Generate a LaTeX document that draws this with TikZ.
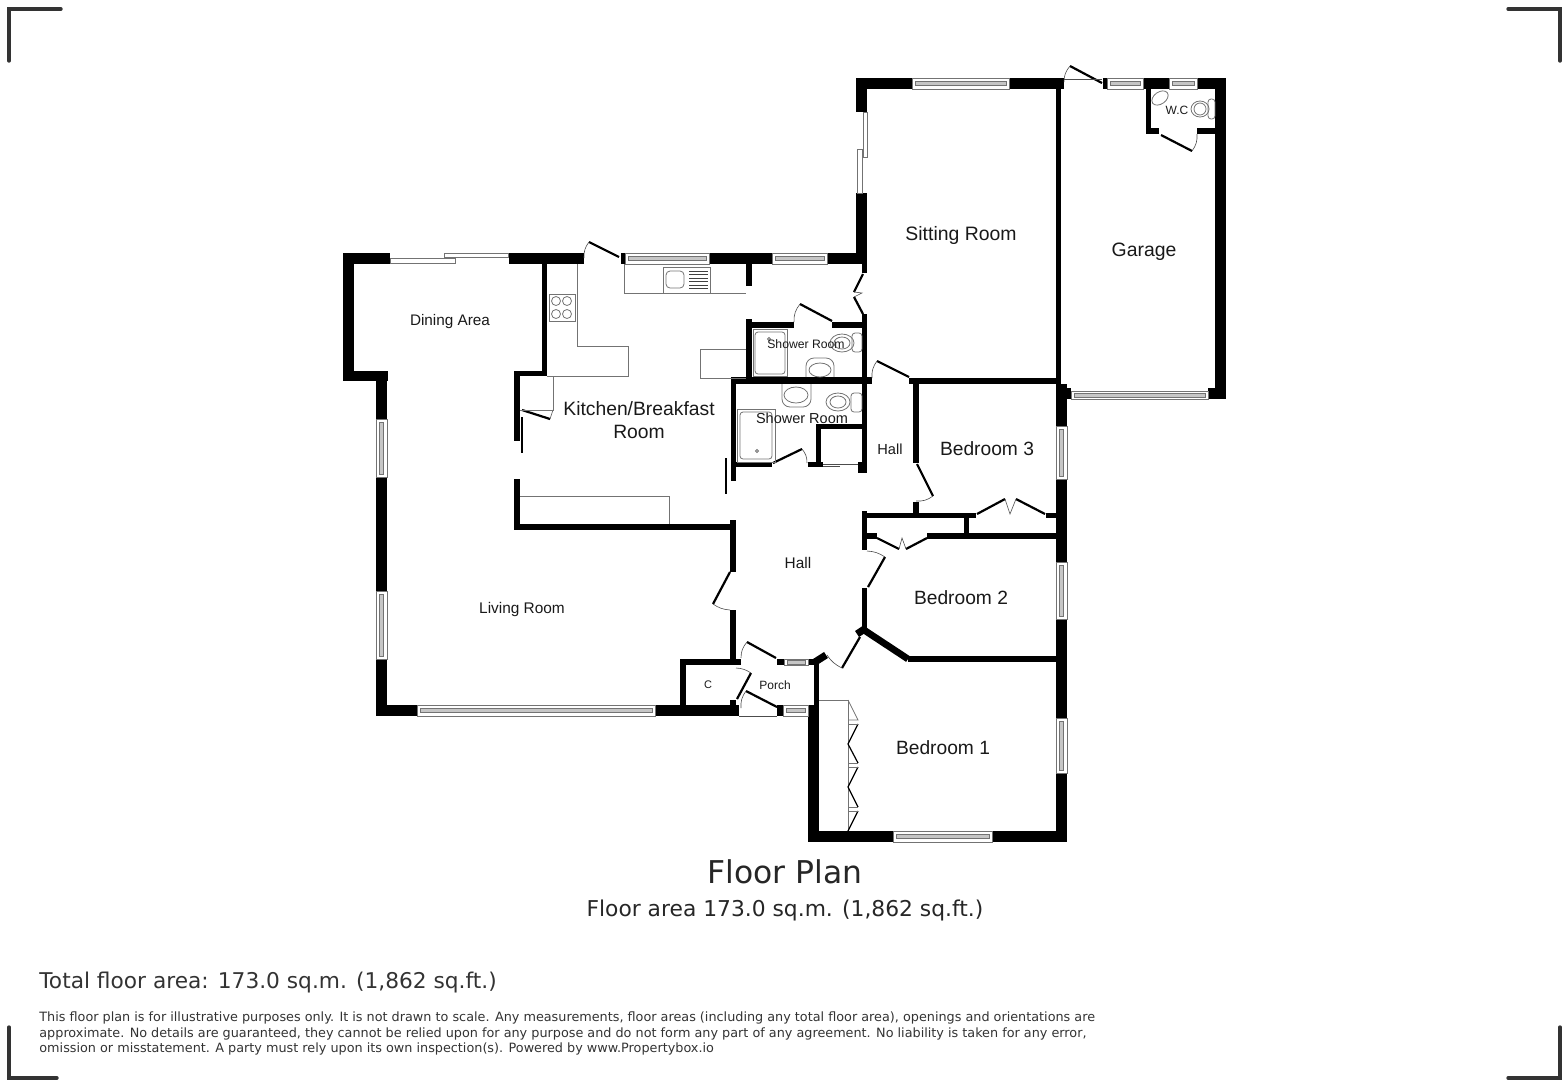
\documentclass[tikz,border=0pt]{standalone}
\usepackage{fontspec}
\setmainfont{DejaVu Sans}
\newfontfamily\roomfont{Liberation Sans}
\newcommand{\wall}[4]{\fill[black] (#1,#2) rectangle (#3,#4);}
\newcommand{\winh}[4]{
	\draw[glass,fill=white] (#1,#2) rectangle (#3,#4);
	\draw[glass,fill=gray!45] (#1+3,{(#2+#4)/2-2}) rectangle (#3-3,{(#2+#4)/2+2});
}
\newcommand{\winv}[4]{
	\draw[glass,fill=white] (#1,#2) rectangle (#3,#4);
	\draw[glass,fill=gray!45] ({(#1+#3)/2-2},#2+3) rectangle ({(#1+#3)/2+2},#4-3);
}
\tikzset{
	leaf/.style={line width=1.1pt},
	fold/.style={line width=0.6pt},
	fine/.style={line width=0.3pt,draw=black!70},
	glass/.style={line width=0.35pt,draw=black!55},
	unit/.style={line width=0.4pt,draw=black!55},
	room/.style={font=\roomfont\fontsize{#1}{#1}\selectfont,text=black!90,inner sep=0pt,align=center},
	crop/.style={line width=1.7pt,draw=black!80,line cap=round},
	foot/.style={inner sep=0pt,anchor=west,text=black!80},
}
\begin{document}
\begin{tikzpicture}[x=0.5pt,y=-0.5pt]
	\useasboundingbox (0,0) rectangle (1568,1088);
	\draw[crop] (9,61) -- (9,9) -- (61,9);
	\draw[crop] (1508,9) -- (1560,9) -- (1560,61);
	\draw[crop] (9,1027) -- (9,1078) -- (57,1078);
	\draw[crop] (1508,1078) -- (1560,1078) -- (1560,1027);

	\wall{343}{253}{390}{264}
	\wall{343}{253}{354}{381}
	\wall{343}{371}{388}{381}
	\wall{376}{371}{387}{419}
	\wall{376}{477}{387}{591}
	\wall{376}{659}{387}{716}
	\wall{376}{705}{417}{716}
	\wall{655}{705}{739}{716}
	\wall{680}{659}{686}{705}
	\wall{680}{659}{741}{665}
	\wall{730}{520}{736}{572}
	\wall{730}{610}{736}{665}
	\wall{730}{700}{736}{705}
	\wall{514}{524}{736}{530}
	\wall{514}{479}{520}{530}
	\wall{514}{371}{520}{441}
	\wall{514}{371}{547}{376}
	\wall{542}{253}{547}{376}
	\wall{509}{253}{584}{264}
	\wall{621}{253}{625}{264}
	\wall{709}{253}{772}{264}
	\wall{827}{253}{867}{264}
	\wall{746}{264}{752}{286}
	\wall{856}{78}{912}{89}
	\wall{856}{78}{867}{112}
	\wall{856}{193}{867}{263}
	\wall{862}{263}{867}{273}
	\wall{746}{319}{752}{383}
	\wall{746}{322}{794}{328}
	\wall{832}{322}{867}{328}
	\wall{862}{314}{867}{473}
	\wall{731}{377}{872}{384}
	\wall{731}{377}{736}{481}
	\wall{731}{462}{772}{467}
	\wall{808}{462}{823}{467}
	\wall{816}{424}{821}{467}
	\wall{816}{424}{862}{429}
	\wall{858}{462}{867}{473}
	\wall{913}{378}{919}{463}
	\wall{909}{378}{1057}{384}
	\wall{913}{502}{919}{515}
	\wall{862}{513}{976}{518}
	\wall{1046}{513}{1057}{518}
	\wall{964}{513}{969}{538}
	\wall{927}{533}{1057}{539}
	\wall{862}{533}{877}{539}
	\wall{862}{511}{867}{550}
	\wall{862}{588}{867}{628}
	\wall{908}{656}{1057}{662}
	\wall{777}{659}{784}{665}
	\wall{808}{659}{819}{665}
	\wall{814}{660}{819}{705}
	\wall{777}{705}{783}{716}
	\wall{808}{705}{819}{842}
	\wall{808}{831}{893}{842}
	\wall{992}{831}{1067}{842}
	\wall{1056}{384}{1067}{426}
	\wall{1056}{479}{1067}{562}
	\wall{1056}{619}{1067}{718}
	\wall{1056}{773}{1067}{842}
	\wall{1060}{388}{1071}{399}
	\wall{1056}{89}{1061}{388}
	\wall{1009}{78}{1064}{89}
	\wall{1103}{78}{1107}{89}
	\wall{1143}{78}{1169}{89}
	\wall{1197}{78}{1226}{89}
	\wall{1215}{78}{1226}{399}
	\wall{1208}{388}{1226}{399}
	\wall{1146}{89}{1151}{134}
	\wall{1146}{128}{1159}{134}
	\wall{1197}{128}{1215}{134}
	\draw[line width=3.4pt] (864,630) -- (908,659);
	\draw[line width=3.6pt] (857,634) -- (866,628);
	\draw[line width=3.6pt] (815,662) -- (826,655);

	\winh{417}{705}{655}{716}
	\winh{625}{253}{709}{264}
	\winh{772}{253}{827}{264}
	\winh{912}{78}{1009}{89}
	\winh{1107}{78}{1143}{89}
	\winh{1169}{78}{1197}{89}
	\winh{1071}{391}{1208}{399}
	\winh{893}{831}{992}{842}
	\winh{784}{659}{808}{665}
	\winh{783}{705}{808}{716}
	\winv{376}{419}{387}{477}
	\winv{376}{591}{387}{659}
	\winv{1056}{426}{1067}{479}
	\winv{1056}{562}{1067}{619}
	\winv{1056}{718}{1067}{773}
	\draw[glass,fill=white] (444,253) rectangle (508,257);
	\draw[glass,fill=white] (390,258) rectangle (455,263);
	\draw[glass,fill=white] (863,112) rectangle (867,157);
	\draw[glass,fill=white] (857,149) rectangle (862,193);
	\draw[fine] (823,464) -- (858,464);
	\draw[fine] (823,466) -- (840,466);

	\draw[leaf] (589,242) -- (619,257);
	\draw[fine] (584,258) to[bend left=20] (589,242);
	\draw[leaf] (800,304) -- (832,321);
	\draw[fine] (794,322) to[bend left=20] (800,304);
	\draw[leaf] (877,361) -- (909,377);
	\draw[fine] (872,378) to[bend left=20] (877,361);
	\draw[leaf] (773,463) -- (802,449);
	\draw[fine] (802,449) to[bend left=20] (807,463);
	\draw[leaf] (917,464) -- (933,496);
	\draw[fine] (933,496) to[bend left=20] (916,501);
	\draw[leaf] (1070,66) -- (1102,83);
	\draw[fine] (1064,82) to[bend left=20] (1070,66);
	\draw[fine] (1064,79) -- (1102,79);
	\draw[leaf] (1161,135) -- (1192,151);
	\draw[fine] (1192,151) to[bend right=20] (1197,134);
	\draw[leaf] (863,274) -- (854,292);
	\draw[leaf] (854,297) -- (863,314);
	\draw[fine] (854,292) -- (862,293) -- (854,297);
	\draw[leaf] (977,514) -- (1005,499);
	\draw[leaf] (1016,499) -- (1045,514);
	\draw[fine] (1005,499) -- (1010,514) -- (1016,499);
	\draw[leaf] (877,538) -- (899,549);
	\draw[leaf] (906,549) -- (927,538);
	\draw[fine] (899,549) -- (902,538) -- (906,549);
	\draw[leaf] (885,557) -- (868,587);
	\draw[fine] (867,551) to[bend left=15] (885,557);
	\draw[leaf] (730,572) -- (713,604);
	\draw[fine] (713,604) to[bend right=15] (730,610);
	\draw[leaf] (860,637) -- (842,668);
	\draw[fine] (842,668) to[bend left=15] (827,655);
	\draw[leaf] (747,642) -- (776,658);
	\draw[fine] (741,658) to[bend left=20] (747,642);
	\draw[leaf] (751,673) -- (737,699);
	\draw[fine] (736,668) to[bend left=15] (751,673);
	\draw[leaf] (746,691) -- (777,707);
	\draw[fine] (741,708) to[bend left=20] (746,691);
	\draw[fine] (739,716) -- (777,716);
	\draw[leaf] (522,410) -- (550,419);
	\draw[fine] (550,419) -- (553,410);
	\draw[leaf] (522,417) -- (522,453);
	\draw[leaf] (726,458) -- (726,494);

	\draw[unit] (577,264) -- (577,346) -- (628,346) -- (628,376) -- (547,376);
	\draw[unit] (553,376) -- (553,410) -- (520,410);
	\draw[unit] (624,264) -- (624,293) -- (746,293);
	\draw[unit] (746,349) -- (700,349) -- (700,378) -- (746,378);
	\draw[unit] (520,496) -- (669,496) -- (669,524);
	\draw[unit] (549,294) rectangle (575,321);
	\draw[unit] (556,301) circle[radius=4.5];
	\draw[unit] (567,301) circle[radius=4.5];
	\draw[unit] (556,314) circle[radius=4.5];
	\draw[unit] (567,314) circle[radius=4.5];
	\draw[unit] (663,267) rectangle (710,293);
	\draw[unit,rounded corners=2pt] (666,271) rectangle (684,288);
	\foreach \y in {271,274.5,278,281.5,285,288}
		\draw[unit,draw=black!75] (689,\y) -- (708,\y);

	\draw[unit] (753,329) rectangle (787,376);
	\draw[unit,rounded corners=1.5pt] (755,332) rectangle (785,374);
	\draw[unit] (769,339) circle[radius=1.5];
	\draw[unit,rounded corners=1.5pt] (852,333) rectangle (862,352);
	\draw[unit] (842,343) ellipse (12 and 9);
	\draw[unit] (842,343) ellipse (8 and 6);
	\draw[unit,rounded corners=4pt] (806,377) -- (806,358) -- (834,358) -- (834,377);
	\draw[unit] (820,370) ellipse (11 and 7);

	\draw[unit,rounded corners=4pt] (782,384) -- (782,407) -- (811,407) -- (811,384);
	\draw[unit] (796,395) ellipse (12 and 8);
	\draw[unit] (838,402) ellipse (12 and 9);
	\draw[unit] (838,402) ellipse (8 and 6);
	\draw[unit,rounded corners=1.5pt] (851,393) rectangle (862,412);
	\draw[unit] (737,409) rectangle (775,462);
	\draw[unit,rounded corners=1.5pt] (740,412) rectangle (772,459);
	\draw[unit] (757,451) circle[radius=1.5];

	\draw[unit,rotate around={35:(1160,98)}] (1160,98) ellipse (9 and 6);
	\draw[unit] (1200,109) ellipse (9 and 8);
	\draw[unit] (1200,109) ellipse (6 and 6);
	\draw[unit,rounded corners=1.5pt] (1208,99) rectangle (1215,119);

	\draw[unit] (819,700) -- (848,700) -- (848,831);
	\draw[unit] (848,700) -- (858,720) -- (848,720);
	\draw[fold] (858,724) -- (848,744);
	\draw[unit] (848,724) -- (858,724);
	\draw[fold] (848,744) -- (858,763);
	\draw[unit] (858,763) -- (848,763);
	\draw[fold] (858,767) -- (848,787);
	\draw[unit] (848,767) -- (858,767);
	\draw[fold] (848,787) -- (858,807);
	\draw[unit] (858,807) -- (848,807);
	\draw[fold] (858,811) -- (848,831);
	\draw[unit] (848,811) -- (858,811);

	\node[room=7.65] (dining) at (450,321.5) {Dining Area};
	\node[room=9.65] (kitchen) at (639,420) {Kitchen/Breakfast\\[2pt]Room};
	\node[room=6.1] (showertop) at (806,344) {Shower Room};
	\node[room=7.25] (showerlow) at (802,418) {Shower Room};
	\node[room=7.3] (hallup) at (890,449) {Hall};
	\node[room=7.7] (hall) at (798,563) {Hall};
	\node[room=9.7] (sitting) at (961,235.5) {Sitting Room};
	\node[room=9.7] (garage) at (1144,251.5) {Garage};
	\node[room=6] (wc) at (1177,110) {W.C};
	\node[room=9.6] (bed3) at (987,449) {Bedroom 3};
	\node[room=9.6] (bed2) at (961,598) {Bedroom 2};
	\node[room=9.6] (bed1) at (943,748) {Bedroom 1};
	\node[room=7.7] (living) at (522,609.5) {Living Room};
	\node[room=5.5] (cupboard) at (708,685) {C};
	\node[room=6] (porch) at (775,685) {Porch};

	\node[inner sep=0pt,text=black!85,font=\fontsize{15.7}{18}\selectfont] (title) at (785,872) {Floor Plan};
	\node[inner sep=0pt,text=black!85,font=\fontsize{10.9}{12}\selectfont] (area) at (785,910.5) {Floor area 173.0 sq.m. (1,862 sq.ft.)};
	\node[foot,font=\fontsize{10.85}{13}\selectfont] (total) at (39,982.5) {Total floor area: 173.0 sq.m. (1,862 sq.ft.)};
	\node[foot,font=\fontsize{6.4}{8}\selectfont] (lineone) at (39,1018) {This floor plan is for illustrative purposes only. It is not drawn to scale. Any measurements, floor areas (including any total floor area), openings and orientations are};
	\node[foot,font=\fontsize{6.4}{8}\selectfont] (linetwo) at (39,1033.5) {approximate. No details are guaranteed, they cannot be relied upon for any purpose and do not form any part of any agreement. No liability is taken for any error,};
	\node[foot,font=\fontsize{6.4}{8}\selectfont] (linethree) at (39,1049) {omission or misstatement. A party must rely upon its own inspection(s). Powered by www.Propertybox.io};
\end{tikzpicture}
\end{document}
